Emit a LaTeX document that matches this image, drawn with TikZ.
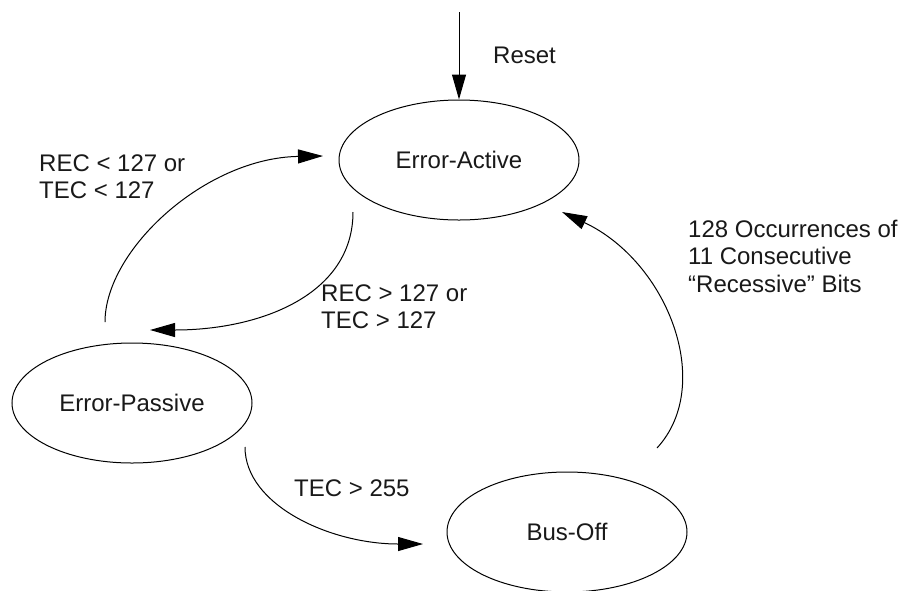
\documentclass[tikz,border=0pt]{standalone}
\usepackage{fontspec}
\setmainfont{Liberation Sans}
\usetikzlibrary{shapes.geometric,arrows.meta,calc}

\begin{document}
\begin{tikzpicture}[x=1pt,y=-1pt,
  state/.style={draw, ellipse, line width=1pt, minimum width=240pt,
                minimum height=120pt, inner sep=0pt},
  lbl/.style={inner sep=0pt, align=left, anchor=west},
  arr/.style={line width=1pt, -{Triangle[length=25pt,width=14pt]}},
  every node/.style={font=\fontsize{24}{27.5}\selectfont, text=black!90}]

  % canvas
  \useasboundingbox (0,0) rectangle (905,590);

  % states
  \node[state] (act) at (459,160) {Error-Active};
  \node[state] (pas) at (132,403) {Error-Passive};
  \node[state] (bus) at (567,532) {Bus-Off};

  % reset entry
  \coordinate (rst) at (459,12);
  \draw[arr] (rst) -- (act.north);
  \node[lbl] (lreset) at (493,55.5) {Reset};

  % Error-Passive -> Error-Active
  \draw[arr] ($(pas)+(-27,-81)$) .. controls +(0,-72) and +(-118,2) .. ($(act)+(-136,-4)$);
  \node[lbl] (lrecl) at (39,176.5) {REC < 127 or\\TEC < 127};

  % Error-Active -> Error-Passive
  \draw[arr] ($(act)+(-106,52)$) .. controls +(0,83) and +(110,0) .. ($(pas)+(18,-73)$);
  \node[lbl] (lrecg) at (321,306.5) {REC > 127 or\\TEC > 127};

  % Error-Passive -> Bus-Off
  \draw[arr] ($(pas)+(113,44)$) .. controls +(0,58) and +(-93,0) .. ($(bus)+(-144,12)$);
  \node[lbl] (ltec) at (294,488.5) {TEC > 255};

  % Bus-Off -> Error-Active
  \draw[arr] ($(bus)+(90,-84)$) .. controls +(58,-63) and +(106,50) .. ($(act)+(103,52)$);
  \node[lbl] (lrec) at (688,256) {128 Occurrences of\\11 Consecutive\\“Recessive” Bits};
\end{tikzpicture}
\end{document}
